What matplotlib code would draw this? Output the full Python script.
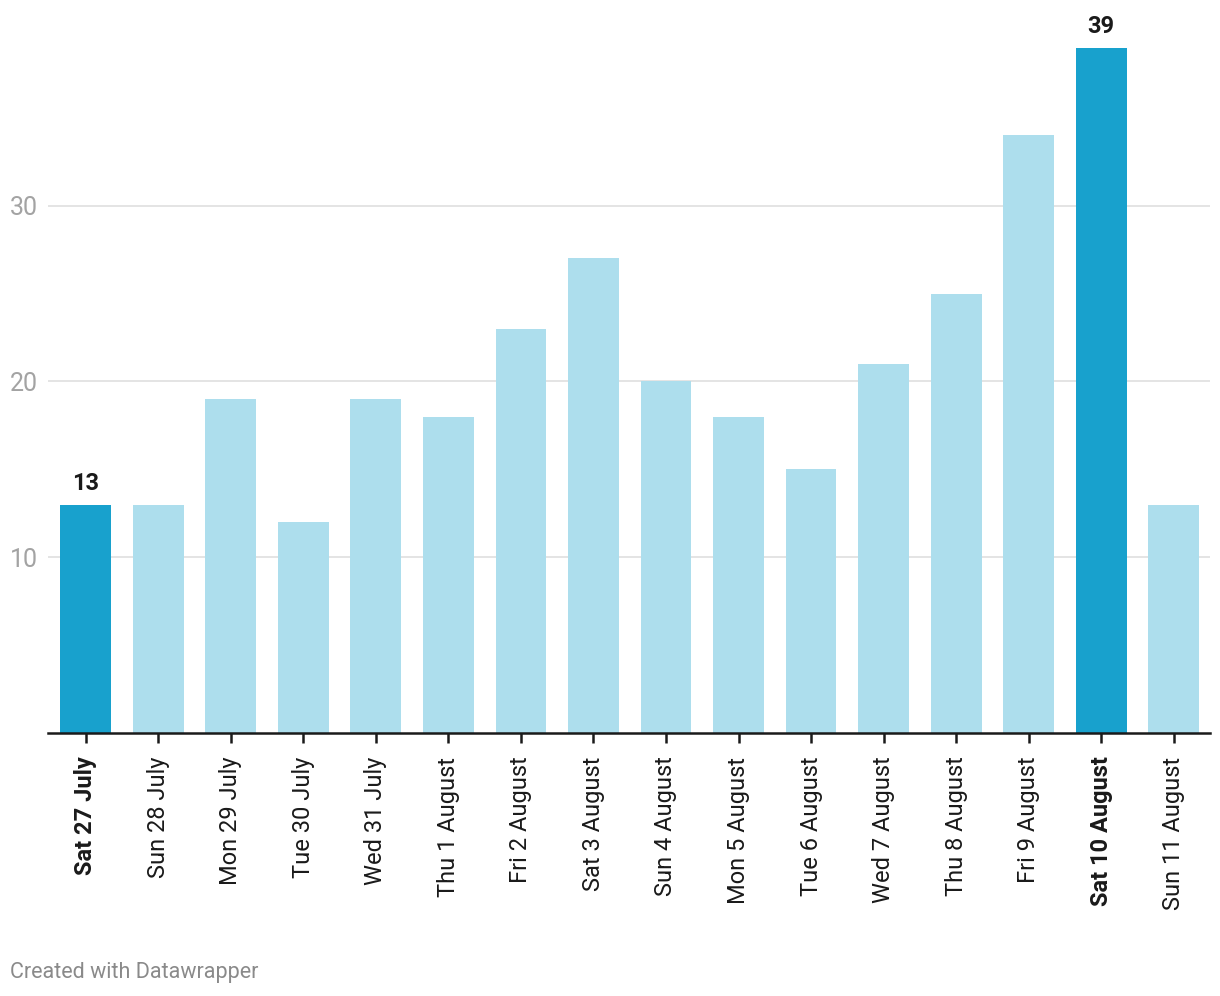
import matplotlib.pyplot as plt

plt.rcParams['font.family'] = ['Roboto', 'DejaVu Sans']

# Data
days = ['Sat 27 July', 'Sun 28 July', 'Mon 29 July', 'Tue 30 July', 'Wed 31 July',
        'Thu 1 August', 'Fri 2 August', 'Sat 3 August', 'Sun 4 August', 'Mon 5 August',
        'Tue 6 August', 'Wed 7 August', 'Thu 8 August', 'Fri 9 August',
        'Sat 10 August', 'Sun 11 August']
counts = [13, 13, 19, 12, 19, 18, 23, 27, 20, 18, 15, 21, 25, 34, 39, 13]
highlight = ['Sat 27 July', 'Sat 10 August']

dark = '#18a1cd'
light = '#addeed'

fig = plt.figure(figsize=(12.2, 9.96), dpi=100)
ax = fig.add_axes([48 / 1220, 1 - 733 / 996, (1210 - 48) / 1220, (733 - 30) / 996])

x = list(range(len(days)))
colors = [dark if d in highlight else light for d in days]
ax.bar(x, counts, width=0.7, color=colors, zorder=2)

# Value labels on highlighted bars
for i, d in enumerate(days):
    if d in highlight:
        ax.annotate(str(counts[i]), (i, counts[i]), xytext=(0, 7), textcoords='offset points',
                    ha='center', va='bottom', fontsize=17, fontweight='bold', color='#1a1a1a')

ax.set_xlim(-0.52, len(days) - 0.5)
ax.set_ylim(0, 40)

ax.set_yticks([10, 20, 30])
ax.set_yticklabels(['10', '20', '30'], ha='left', fontsize=18, color='#a3a3a3')
ax.tick_params(axis='y', length=0, pad=27.4)
ax.grid(axis='y', color='#e2e2e2', linewidth=1.3, zorder=0)

ax.set_xticks(x)
ax.set_xticklabels(days, rotation=90, fontsize=17, color='#1a1a1a', va='top')
for lbl in ax.get_xticklabels():
    if lbl.get_text() in highlight:
        lbl.set_fontweight('bold')
ax.tick_params(axis='x', length=7, width=1.8, color='#1a1a1a', pad=10)

for s in ['top', 'right', 'left']:
    ax.spines[s].set_visible(False)
ax.spines['bottom'].set_color('#1a1a1a')
ax.spines['bottom'].set_linewidth(1.8)
ax.spines['bottom'].set_zorder(3)

fig.text(10 / 1220, 1 - 972 / 996, 'Created with Datawrapper', fontsize=15.5,
         color='#8a8a8a', ha='left', va='center')

fig.savefig('out.png', dpi=100)
